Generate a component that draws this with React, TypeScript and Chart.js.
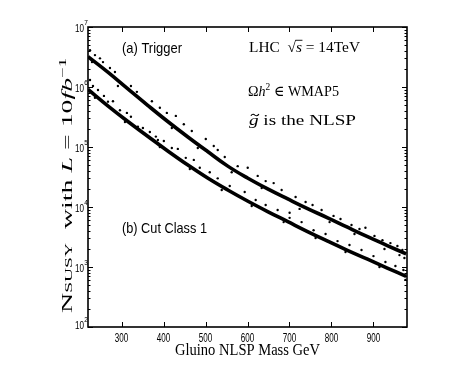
import { useEffect, useRef } from "react";
import { Chart, registerables } from "chart.js";
Chart.register(...registerables);

// ---- axis definitions ----
const xMin = 220;
const xMax = 980;
const yMin = 1e2;
const yMax = 1e7;
const xTicks = [300, 400, 500, 600, 700, 800, 900];
const yDecades = [2, 3, 4, 5, 6, 7];

// ---- band centres ----
const bandX = [220, 268, 315, 363, 410, 458, 505, 553, 600, 648, 696, 743, 791, 838, 886, 933, 978];
const triggerY = [3.2e6, 1.75e6, 9.3e5, 4.9e5, 2.66e5, 1.47e5, 8.4e4, 4.8e4, 3.04e4, 2.0e4, 1.36e4, 9.4e3, 6.6e3, 4.6e3, 3.2e3, 2.28e3, 1.65e3];
const cutClass1Y = [9.1e5, 4.8e5, 2.66e5, 1.5e5, 8.6e4, 5.0e4, 3.04e4, 1.92e4, 1.26e4, 8.4e3, 5.7e3, 3.9e3, 2.7e3, 1.9e3, 1.35e3, 9.6e2, 7.0e2];

// ---- scattered points around the bands ----
const triggerDotX = [224.8, 229.5, 236.6, 248.5, 255.7, 272.3, 284.2, 291.3, 322.3, 336.5, 355.5, 372.2, 391.2, 407.9, 419.7, 429.3, 448.3, 467.3, 481.6, 500.6, 519.6, 529.1, 545.8, 562.4, 576.7, 600.5, 624.3, 633.8, 643.3, 662.3, 681.3, 700.3, 714.6, 724.1, 738.4, 755, 776.5, 795.6, 805, 821.6, 847.8, 854.9, 866.8, 881, 902.5, 921.5, 926.3, 940.5, 957.2, 962, 969, 973.8];
const triggerDotY = [4.1e6, 2.6e6, 3.4e6, 3.0e6, 2.6e6, 2.07e6, 1.78e6, 1.04e6, 1.04e6, 8.3e5, 5.4e5, 5.8e5, 4.5e5, 3.7e5, 2.07e5, 3.3e5, 2.4e5, 1.85e5, 9.6e4, 1.36e5, 1.04e5, 8.9e4, 6.8e4, 3.8e4, 4.8e4, 4.5e4, 3.3e4, 2.07e4, 2.7e4, 2.5e4, 1.92e4, 8.0e3, 1.47e4, 9.3e3, 1.21e4, 1.08e4, 8.9e3, 5.6e3, 7.1e3, 6.3e3, 5.0e3, 3.55e3, 4.3e3, 4.5e3, 3.3e3, 2.8e3, 2.0e3, 2.5e3, 2.24e3, 1.58e3, 1.92e3, 1.41e3];
const cutDotX = [224.8, 231.9, 236.6, 243.8, 258, 267.6, 279.5, 296.1, 308, 312.7, 322.3, 338.9, 350.8, 367.4, 381.7, 386.5, 391.2, 400.7, 419.7, 434, 453, 462.6, 472.1, 486.3, 510.1, 529.1, 538.6, 557.7, 593.3, 610, 619.5, 643.3, 671.8, 686.1, 700.3, 728.9, 757.4, 762.2, 786, 814.5, 833.5, 843, 871.6, 900.1, 914.4, 928.6, 952.4, 971.4, 976.2];
const cutDotY = [1.31e6, 1.04e6, 6.6e5, 8.9e5, 7.1e5, 5.7e5, 5.8e5, 4.1e5, 2.61e5, 3.7e5, 3.2e5, 2.18e5, 2.07e5, 1.78e5, 1.49e5, 1.31e5, 1.0e5, 1.26e5, 9.6e4, 9.3e4, 6.6e4, 4.3e4, 6.1e4, 4.5e4, 3.8e4, 3.0e4, 1.92e4, 2.24e4, 1.78e4, 1.04e4, 1.31e4, 1.08e4, 8.9e3, 5.6e3, 6.6e3, 5.6e3, 4.1e3, 3.04e3, 3.55e3, 2.7e3, 1.78e3, 2.33e3, 1.92e3, 1.52e3, 1.0e3, 1.21e3, 1.04e3, 8.9e2, 6.1e2];

const SANS = "'Liberation Sans', Arial, sans-serif";
const SERIF = "'Liberation Serif', 'DejaVu Serif', serif";

type Piece = { t: string; font: string; dy?: number; over?: boolean; tilde?: boolean };

function piecesWidth(ctx: CanvasRenderingContext2D, pieces: Piece[]) {
  let w = 0;
  for (const p of pieces) {
    ctx.font = p.font;
    w += ctx.measureText(p.t).width;
  }
  return w;
}

function drawPieces(
  ctx: CanvasRenderingContext2D,
  pieces: Piece[],
  x: number,
  y: number,
  target: number,
  align: "left" | "center" | "right"
) {
  const w = piecesWidth(ctx, pieces);
  const s = target / w;
  const x0 = align === "center" ? x - target / 2 : align === "right" ? x - target : x;
  ctx.save();
  ctx.translate(x0, y);
  ctx.scale(s, 1);
  ctx.textAlign = "left";
  ctx.textBaseline = "alphabetic";
  let cx = 0;
  for (const p of pieces) {
    ctx.font = p.font;
    const pw = ctx.measureText(p.t).width;
    ctx.fillText(p.t, cx, p.dy || 0);
    if (p.over) ctx.fillRect(cx - 0.5, -12.2, pw + 1, 0.9);
    if (p.tilde) {
      ctx.save();
      ctx.lineWidth = 0.9;
      ctx.beginPath();
      const a = cx + 1.5;
      ctx.moveTo(a, -9.2);
      ctx.bezierCurveTo(a + 1.2, -11.6, a + 2.4, -10.6, a + 3.2, -9.8);
      ctx.bezierCurveTo(a + 4.0, -9.0, a + 5.2, -8.6, a + 6.2, -11.0);
      ctx.stroke();
      ctx.restore();
    }
    cx += pw;
  }
  ctx.restore();
}

const decor = {
  id: "decor",
  afterDatasetsDraw(chart: any) {
    const ctx: CanvasRenderingContext2D = chart.ctx;
    const { left, right, top, bottom } = chart.chartArea;
    const xs = chart.scales.x;
    const ys = chart.scales.y;
    ctx.save();
    ctx.strokeStyle = "#000";
    ctx.fillStyle = "#000";

    // inward ticks
    ctx.lineWidth = 1;
    ctx.beginPath();
    for (const v of xTicks) {
      const px = Math.round(xs.getPixelForValue(v)) + 0.5;
      ctx.moveTo(px, bottom);
      ctx.lineTo(px, bottom - 5);
      ctx.moveTo(px, top);
      ctx.lineTo(px, top + 5);
    }
    for (const d of yDecades) {
      for (let m = 1; m <= 9; m++) {
        if (d === 7 && m > 1) break;
        const py = Math.round(ys.getPixelForValue(m * Math.pow(10, d))) + 0.5;
        const len = m === 1 ? 5 : 2.5;
        ctx.moveTo(left, py);
        ctx.lineTo(left + len, py);
        ctx.moveTo(right, py);
        ctx.lineTo(right - len, py);
      }
    }
    ctx.stroke();

    // frame
    ctx.lineWidth = 1.6;
    ctx.strokeRect(left, top, right - left, bottom - top);

    // x tick labels
    for (const v of xTicks) {
      const px = xs.getPixelForValue(v);
      drawPieces(ctx, [{ t: String(v), font: `12px ${SANS}` }], px, 342, 13.5, "center");
    }
    // y tick labels (10^k)
    for (const d of yDecades) {
      const py = ys.getPixelForValue(Math.pow(10, d));
      const base = Math.min(py + 4.5, bottom + 1.5);
      drawPieces(ctx, [{ t: "10", font: `11px ${SANS}` }], 84, base, 9, "right");
      drawPieces(ctx, [{ t: String(d), font: `7.5px ${SANS}` }], 84.3, base - 6.5, 3.6, "left");
    }

    // panel labels
    drawPieces(ctx, [{ t: "(a) Trigger", font: `15px ${SANS}` }], 122, 52.5, 60, "left");
    drawPieces(ctx, [{ t: "(b) Cut Class 1", font: `15px ${SANS}` }], 122, 233, 85, "left");

    // physics annotations
    const f15 = `15px ${SERIF}`;
    const i15 = `italic 15px ${SERIF}`;
    drawPieces(
      ctx,
      [
        { t: "LHC  ", font: f15 },
        { t: "\u221A", font: f15 },
        { t: "s", font: i15, over: true },
        { t: " = 14TeV", font: f15 },
      ],
      249,
      52,
      111,
      "left"
    );
    drawPieces(
      ctx,
      [
        { t: "\u03A9", font: f15 },
        { t: "h", font: i15 },
        { t: "2", font: `10px ${SERIF}`, dy: -6 },
        { t: " \u2208 WMAP5", font: f15 },
      ],
      248,
      96,
      91,
      "left"
    );
    drawPieces(
      ctx,
      [
        { t: "g", font: i15, tilde: true },
        { t: " is the NLSP", font: f15 },
      ],
      249,
      125,
      107,
      "left"
    );

    // x axis title
    drawPieces(ctx, [{ t: "Gluino NLSP Mass GeV", font: `16px ${SERIF}` }], (left + right) / 2, 355, 145, "center");

    // y axis title (rotated)
    ctx.save();
    ctx.translate(71.5, 185.5);
    ctx.rotate(-Math.PI / 2);
    drawPieces(
      ctx,
      [
        { t: "N", font: f15 },
        { t: "SUSY", font: `10.5px ${SERIF}` },
        { t: "  with ", font: f15 },
        { t: "L", font: i15 },
        { t: " = ", font: f15 },
        { t: "10", font: f15 },
        { t: "fb", font: i15 },
        { t: "\u22121", font: `10px ${SERIF}`, dy: -6 },
      ],
      0,
      0,
      255,
      "center"
    );
    ctx.restore();

    ctx.restore();
  },
};

function pairs(xs: number[], ys: number[]) {
  return xs.map((x, i) => ({ x, y: ys[i] }));
}

export default function App() {
  const ref = useRef<HTMLCanvasElement | null>(null);
  useEffect(() => {
    if (!ref.current) return;
    const band = {
      showLine: true,
      borderColor: "#000",
      borderWidth: 3.6,
      tension: 0.4,
      pointRadius: 0,
    };
    const dots = {
      backgroundColor: "#000",
      borderColor: "#000",
      pointRadius: 1.2,
      borderWidth: 0,
    };
    const chart = new Chart(ref.current, {
      type: "scatter",
      data: {
        datasets: [
          { label: "Trigger band", data: pairs(bandX, triggerY), ...band },
          { label: "Cut Class 1 band", data: pairs(bandX, cutClass1Y), ...band },
          { label: "Trigger points", data: pairs(triggerDotX, triggerDotY), ...dots },
          { label: "Cut Class 1 points", data: pairs(cutDotX, cutDotY), ...dots },
        ],
      },
      options: {
        animation: false,
        responsive: false,
        layout: { padding: { left: 88, top: 27, right: 43, bottom: 41 } },
        plugins: { legend: { display: false }, tooltip: { enabled: false } },
        scales: {
          x: { type: "linear", min: xMin, max: xMax, display: false },
          y: { type: "logarithmic", min: yMin, max: yMax, display: false },
        },
      },
      plugins: [decor],
    });
    return () => chart.destroy();
  }, []);
  return (
    <div style={{ position: "fixed", left: 0, top: 0, width: 450, height: 368, background: "#fff" }}>
      <canvas ref={ref} width={450} height={368} style={{ display: "block" }} />
    </div>
  );
}
